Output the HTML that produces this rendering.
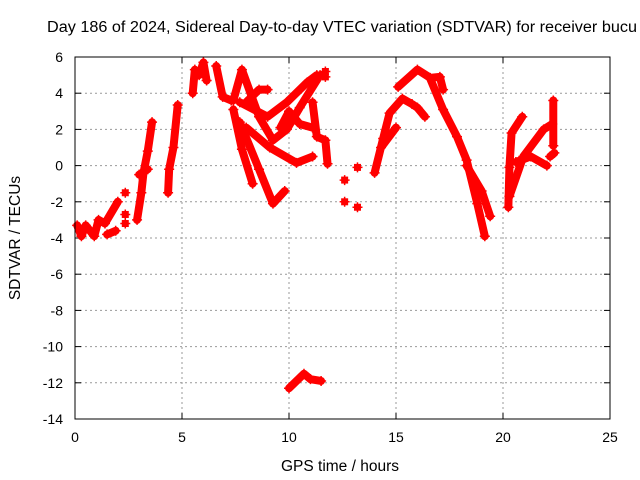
<!DOCTYPE html>
<html><head><meta charset="utf-8"><style>
body{margin:0;background:#fff}
svg{display:block;font-family:"Liberation Sans",sans-serif}
</style></head><body>
<svg id="chart" width="640" height="480" viewBox="0 0 640 480">
<rect width="640" height="480" fill="#fff"/>
<text x="47" y="32" font-size="15.5" textLength="590" lengthAdjust="spacingAndGlyphs" fill="#000">Day 186 of 2024, Sidereal Day-to-day VTEC variation (SDTVAR) for receiver bucu</text>
<g id="grid"></g>
<g id="ticks"></g>
<g id="marks"></g>
<rect x="75" y="57" width="535" height="362" fill="none" stroke="#000" stroke-width="1"/>
<text x="340" y="471" font-size="15.5" text-anchor="middle">GPS time / hours</text>
<text transform="translate(20,238) rotate(-90)" font-size="15.5" text-anchor="middle">SDTVAR / TECUs</text>
</svg>
<script>
const xTicks=[0,5,10,15,20,25];
const yTicks=[6,4,2,0,-2,-4,-6,-8,-10,-12,-14];
const trackA=[[0.1,-3.3],[0.3,-3.9],[0.5,-3.3],[0.9,-3.9],[1.1,-3.0],[1.4,-3.2],[2.0,-2.0]];
const trackA2=[[1.5,-3.8],[1.9,-3.6]];
const blobs=[[2.35,-1.5],[2.35,-3.2],[2.35,-2.7],[12.6,-0.8],[12.6,-2.0],[13.2,-0.1],[13.2,-2.3],[11.7,5.2],[11.7,4.9]];
const trackB=[[2.9,-3.0],[3.1,-1.5],[3.2,-0.4],[3.4,0.8],[3.6,2.4]];
const trackB2=[[3.0,-0.5],[3.4,-0.2]];
const trackC=[[4.35,-1.5],[4.4,-0.2],[4.6,1.0],[4.8,3.35]];
const trackD=[[5.5,4.0],[5.6,5.3],[5.8,5.0],[6.0,5.7],[6.15,4.7]];
const trackE=[[6.6,5.5],[6.9,3.8],[7.3,3.6]];
const trackE1=[[7.4,3.1],[7.8,0.9],[8.3,-1.0]];
const trackE2=[[7.7,2.4],[8.6,-0.2],[9.25,-2.1],[9.8,-1.4]];
const trackE3=[[7.4,3.6],[7.8,5.3],[8.6,2.7],[9.25,1.4],[9.9,2.0],[10.5,3.2],[11.45,5.0]];
const trackE4=[[7.7,3.5],[9.0,2.7],[9.9,3.5],[10.85,4.6],[11.3,5.0]];
const trackE5=[[8.0,3.5],[8.6,4.2],[9.0,4.2]];
const trackE6=[[8.0,2.1],[9.1,1.0],[10.35,0.15],[11.1,0.5]];
const trackE7=[[11.1,3.5],[11.3,1.6],[11.7,1.4],[11.8,0.1]];
const trackE8=[[9.6,2.1],[10.0,3.0],[10.5,2.3],[11.1,2.1]];
const trackLow=[[10.0,-12.3],[10.7,-11.5],[11.0,-11.8],[11.5,-11.9]];
const trackF=[[14.0,-0.4],[14.4,1.5],[14.7,2.9],[15.3,3.7],[15.75,3.4],[16.0,3.2],[16.35,2.7]];
const trackF2=[[14.3,1.0],[15.0,2.1]];
const trackG=[[15.1,4.35],[16.0,5.3],[16.6,4.85],[17.05,4.9],[17.2,4.2]];
const trackG2=[[16.6,4.8],[17.2,3.1],[17.85,1.6],[18.3,0.3],[18.8,-2.1],[19.15,-3.9]];
const trackG3=[[18.3,0.0],[19.0,-1.4],[19.4,-2.8]];
const trackH=[[20.25,-2.3],[20.3,-0.1],[20.4,1.8],[20.9,2.7]];
const trackI=[[20.3,-1.7],[20.95,0.5],[21.9,2.0],[22.3,2.3]];
const trackI2=[[20.6,0.2],[21.3,0.5],[22.05,0.0]];
const trackI3=[[22.35,3.6],[22.35,1.1]];
const trackI4=[[22.2,0.5],[22.4,0.7]];
const series=[trackA,trackA2,trackB,trackB2,trackC,trackD,trackE,trackE1,trackE2,trackE3,trackE4,trackE5,trackE6,trackE7,trackE8,trackLow,trackF,trackF2,trackG,trackG2,trackG3,trackH,trackI,trackI2,trackI3,trackI4];
const NS="http://www.w3.org/2000/svg";
const X=h=>75+h*(535/25);
const Y=v=>57+(6-v)*(362/20);
const grid=document.getElementById('grid'),ticks=document.getElementById('ticks'),marks=document.getElementById('marks');
function mk(tag,attrs,parent){const e=document.createElementNS(NS,tag);for(const k in attrs)e.setAttribute(k,attrs[k]);parent.appendChild(e);return e;}
xTicks.forEach(t=>{
  const x=X(t);
  if(t>0&&t<25){const g=mk('line',{x1:x,x2:x,y1:57,y2:419,stroke:'#999','stroke-dasharray':'2,3'},grid);
  
  }
  mk('line',{x1:x,x2:x,y1:419,y2:413,stroke:'#000'},ticks);
  mk('line',{x1:x,x2:x,y1:57,y2:63,stroke:'#000'},ticks);
  const l=mk('text',{x:x,y:442,'font-size':'14','text-anchor':'middle'},ticks);l.textContent=t;
  
  
});
yTicks.forEach(t=>{
  const y=Y(t);
  if(t<6&&t>-14){const g=mk('line',{x1:75,x2:610,y1:y,y2:y,stroke:'#999','stroke-dasharray':'2,3'},grid);
  
  }
  mk('line',{x1:75,x2:81,y1:y,y2:y,stroke:'#000'},ticks);
  mk('line',{x1:604,x2:610,y1:y,y2:y,stroke:'#000'},ticks);
  const l=mk('text',{x:63,y:y+5,'font-size':'14','text-anchor':'end'},ticks);l.textContent=t;
  
  
});
function plus(h,v){
  const x=X(h),y=Y(v);
  const p=mk('path',{d:`M${x-5} ${y}H${x+5}M${x} ${y-5}V${y+5}`,stroke:'#f00','stroke-width':'1.5',fill:'none'},marks);
  
  
}
series.forEach((s,i)=>{
  const pl=mk('polyline',{points:s.map(p=>X(p[0])+','+Y(p[1])).join(' '),fill:'none',stroke:'#f00','stroke-width':'8','stroke-linejoin':'round','stroke-linecap':'round'},marks);
  
  
  s.forEach(p=>plus(p[0],p[1]));
});
blobs.forEach(p=>plus(p[0],p[1]));
blobs.forEach(p=>{const r=mk('rect',{x:X(p[0])-3.5,y:Y(p[1])-3.5,width:7,height:7,fill:'#f00'},marks);

});
</script>
</body></html>
